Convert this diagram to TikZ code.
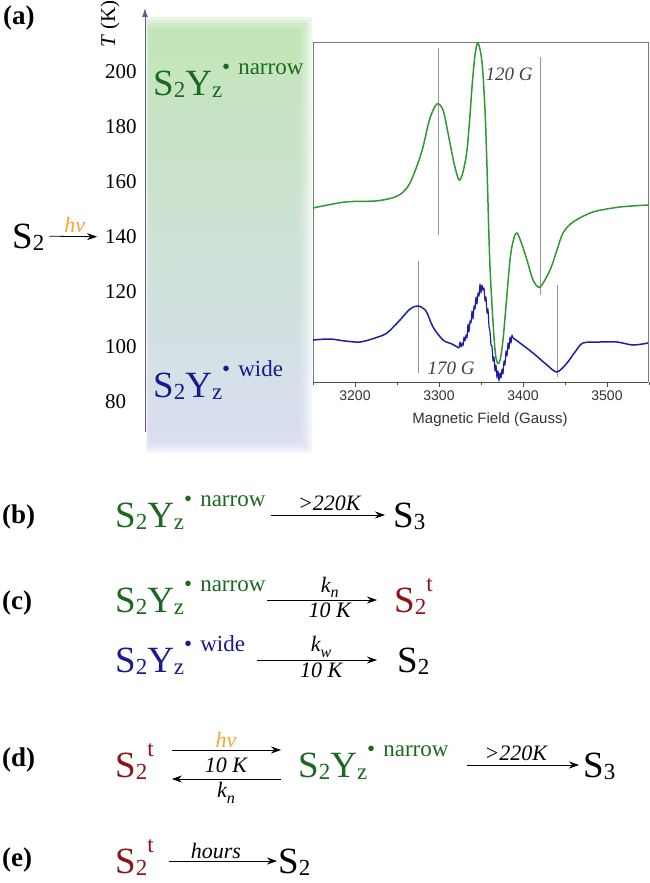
\documentclass[tikz,border=0pt]{standalone}
\usepackage{fontspec}
\setmainfont{Liberation Serif}
\newfontfamily\plotfont{Liberation Sans}
\usetikzlibrary{arrows.meta}

\definecolor{spgreen}{RGB}{25,105,30}
\definecolor{spblue}{RGB}{25,25,145}
\definecolor{spred}{RGB}{140,20,25}
\definecolor{hvorange}{RGB}{245,165,50}
\definecolor{linegreen}{RGB}{50,150,50}
\definecolor{lineblue}{RGB}{30,30,160}
\definecolor{axisslate}{RGB}{95,95,135}
\definecolor{guidegray}{RGB}{150,150,150}
\definecolor{panelgreen}{RGB}{176,222,163}
\definecolor{panelmid}{RGB}{216,225,216}
\definecolor{panelblue}{RGB}{206,212,238}

% sub- and superscripts of the species
\newcommand{\lo}[1]{\raisebox{-0.06em}{\fontsize{23}{23}\selectfont #1}}
\newcommand{\hi}[1]{\raisebox{0.55em}{\fontsize{23}{23}\selectfont #1}}
\newcommand{\SYz}[1]{S\lo{2}Y\lo{z}\hi{\textbullet\hspace{0.35em}#1}}
\newcommand{\Stt}{S\lo{2}\hi{t}}
\newcommand{\kk}[1]{\textit{k}\raisebox{-0.25em}{\fontsize{16}{16}\selectfont\itshape #1}}

\begin{document}
\begin{tikzpicture}[x=1pt,y=-1pt,
  species/.style={inner sep=0pt,text height=24pt,text depth=0pt,anchor=west,font=\fontsize{37}{42}\selectfont},
  panel/.style={inner sep=0pt,anchor=west,font=\fontsize{27}{30}\selectfont\bfseries},
  rxn/.style={-{Stealth[length=10pt,width=7pt]},line width=0.8pt},
  rate/.style={inner sep=2pt,font=\fontsize{22}{26}\selectfont\itshape},
  tlabel/.style={inner sep=0pt,anchor=west,font=\fontsize{21}{24}\selectfont},
  guide/.style={draw=guidegray,line width=1pt},
  glabel/.style={inner sep=0pt,font=\fontsize{19}{22}\selectfont\itshape,text=black!75},
  flabel/.style={inner sep=0pt,font=\plotfont\fontsize{14}{16}\selectfont,text=black!80}]
  \useasboundingbox (0,0) rectangle (650,883);

  % (a) temperature scale
  \foreach \d in {0,3,...,12}
    \shade[opacity=0.25,top color=panelgreen,middle color=panelmid,bottom color=panelblue] (149-\d/4,30-\d) rectangle (300+\d,440+\d);
  \draw[-{Latex[length=9pt,width=6pt]},axisslate,line width=1pt] (145,432) -- (145,8);
  \node[rotate=90,inner sep=0pt,font=\fontsize{21}{24}\selectfont] (taxis) at (110,24) {\textit{T} (K)};
  \foreach \t [count=\i from 0] in {200,180,...,80}
    \node[tlabel] (t\t) at (105,72+55*\i) {\t};
  \node[panel] (pa) at (3,18) {(a)};
  \node[species] (s2a) at (12,236) {S\lo{2}};
  \draw[rxn,shorten <=5pt,shorten >=8pt] (s2a) -- (t140) node[rate,midway,above=1pt,text=hvorange] (hva) {hv};
  \node[species,text=spgreen] (na) at (153,83) {\SYz{narrow}};
  \node[species,text=spblue] (wa) at (153,385) {\SYz{wide}};

  % (a) EPR spectra
  \draw[guidegray!80!black,line width=0.7pt] (313,382) -- (313,42) -- (648,42) -- (648,382);
  \draw[black!70,line width=0.9pt] (313,382) -- (648,382);
  \foreach \b in {3150,3250,...,3550}
    \draw[black!70,line width=0.8pt] (355+0.84*\b-2688,382) -- ++(0,3);
  \foreach \b in {3200,3300,3400,3500} {
    \draw[black!70,line width=0.8pt] (355+0.84*\b-2688,382) -- ++(0,5);
    \node[flabel] (f\b) at (355+0.84*\b-2688,396) {\b};
  }
  \node[flabel,font=\plotfont\fontsize{15}{17}\selectfont] (fname) at (490,420) {Magnetic Field (Gauss)};
  \draw[guide] (438,48) -- (438,235);
  \draw[guide] (540,57) -- (540,295);
  \draw[guide] (418,261) -- (418,373);
  \draw[guide] (557,285) -- (557,377);
  \node[glabel] (g120) at (509,74) {120 G};
  \node[glabel] (g170) at (451,368) {170 G};
  \draw[linegreen,line width=1.5pt] plot[smooth,tension=0.5] coordinates {(313,208) (345,202) (375,201) (392,198) (402,193) (410,183) (418,163) (423,147) (430,118) (437,104) (443,110) (448,133) (454,163) (459,180) (463,172) (467,150) (470,115) (472,87) (475,55) (478,43) (482,62) (485,110) (487,167) (490,267) (495,350) (499,363) (503,340) (510,260) (514,238) (517,233) (521,242) (527,260) (533,280) (540,287) (550,270) (557,250) (563,233) (573,222) (593,212) (620,207) (648,205)};
  \draw[lineblue,line width=1.5pt] plot[smooth,tension=0.5] coordinates {(313,340) (330,339) (345,341) (360,342) (375,338) (387,333) (400,320) (410,309) (418,306) (426,311) (433,327) (443,340) (452,344) (459,348)};
  \draw[lineblue,line width=1.2pt,line join=round] plot coordinates {(459,348) (460,342) (461,347) (462,343) (463,346) (464,337) (465,341) (466,335) (467,338) (468,324) (469,332) (470,321) (471,323) (472,311) (473,319) (474,306) (475,309) (476,297) (477,304) (478,293) (479,296) (480,284) (481,293) (482,285) (483,290) (484,288) (485,301) (486,297) (487,313) (488,309) (489,327) (490,331) (491,345) (492,346) (493,361) (494,357) (495,371) (496,365) (497,378) (498,371) (499,381) (500,373) (501,378) (502,369) (503,374) (504,361) (505,365) (506,351) (507,356) (508,343) (509,349) (510,337) (511,343) (512,335) (513,338)};
  \draw[lineblue,line width=1.5pt] plot[smooth,tension=0.5] coordinates {(513,338) (520,343) (533,353) (547,365) (557,372) (567,363) (575,352) (583,343) (600,342) (617,342) (633,345) (648,343)};

  % (b)
  \node[panel] (pb) at (2,517) {(b)};
  \node[species,text=spgreen] (b1) at (115,515) {\SYz{narrow}};
  \node[species] (b2) at (393,515) {S\lo{3}};
  \draw[rxn,shorten <=5pt,shorten >=8pt] (b1) -- (b2) node[rate,midway,above=2pt] (b12) {>220K};

  % (c)
  \node[panel] (pc) at (2,603) {(c)};
  \node[species,text=spgreen] (c1) at (115,600) {\SYz{narrow}};
  \node[species,text=spred] (c2) at (394,600) {\Stt};
  \draw[rxn,shorten <=1pt,shorten >=17pt] (c1) -- (c2) node[rate,midway,above=0pt] (c12) {\kk{n}} node[rate,midway,below=0pt] (c12t) {10 K};
  \node[species,text=spblue] (c3) at (115,660) {\SYz{wide}};
  \node[species] (c4) at (397,660) {S\lo{2}};
  \draw[rxn,shorten <=12pt,shorten >=20pt] (c3) -- (c4) node[rate,midway,above=0pt] (c34) {\kk{w}} node[rate,midway,below=0pt] (c34t) {10 K};

  % (d)
  \node[panel] (pd) at (2,760) {(d)};
  \node[species,text=spred] (d1) at (115,765) {\Stt};
  \node[species,text=spgreen] (d2) at (298,765) {\SYz{narrow}};
  \node[species] (d3) at (583,765) {S\lo{3}};
  \draw[rxn,shorten <=18pt,shorten >=17pt] ([yshift=15pt]d1.east) -- ([yshift=15pt]d2.west) node[rate,midway,above=0pt,text=hvorange] (d12) {hv} node[rate,midway,below=5pt] (d12t) {10 K};
  \draw[rxn,shorten <=17pt,shorten >=18pt] ([yshift=-14pt]d2.west) -- ([yshift=-14pt]d1.east) node[rate,midway,below=1pt] (d21) {\kk{n}};
  \draw[rxn,shorten <=18pt,shorten >=4pt] (d2) -- (d3) node[rate,midway,above=2pt] (d23) {>220K};

  % (e)
  \node[panel] (pe) at (2,860) {(e)};
  \node[species,text=spred] (e1) at (115,861) {\Stt};
  \node[species] (e2) at (278,861) {S\lo{2}};
  \draw[rxn,shorten <=15pt,shorten >=1pt] (e1) -- (e2) node[rate,midway,above=0pt] (e12) {hours};
\end{tikzpicture}
\end{document}
